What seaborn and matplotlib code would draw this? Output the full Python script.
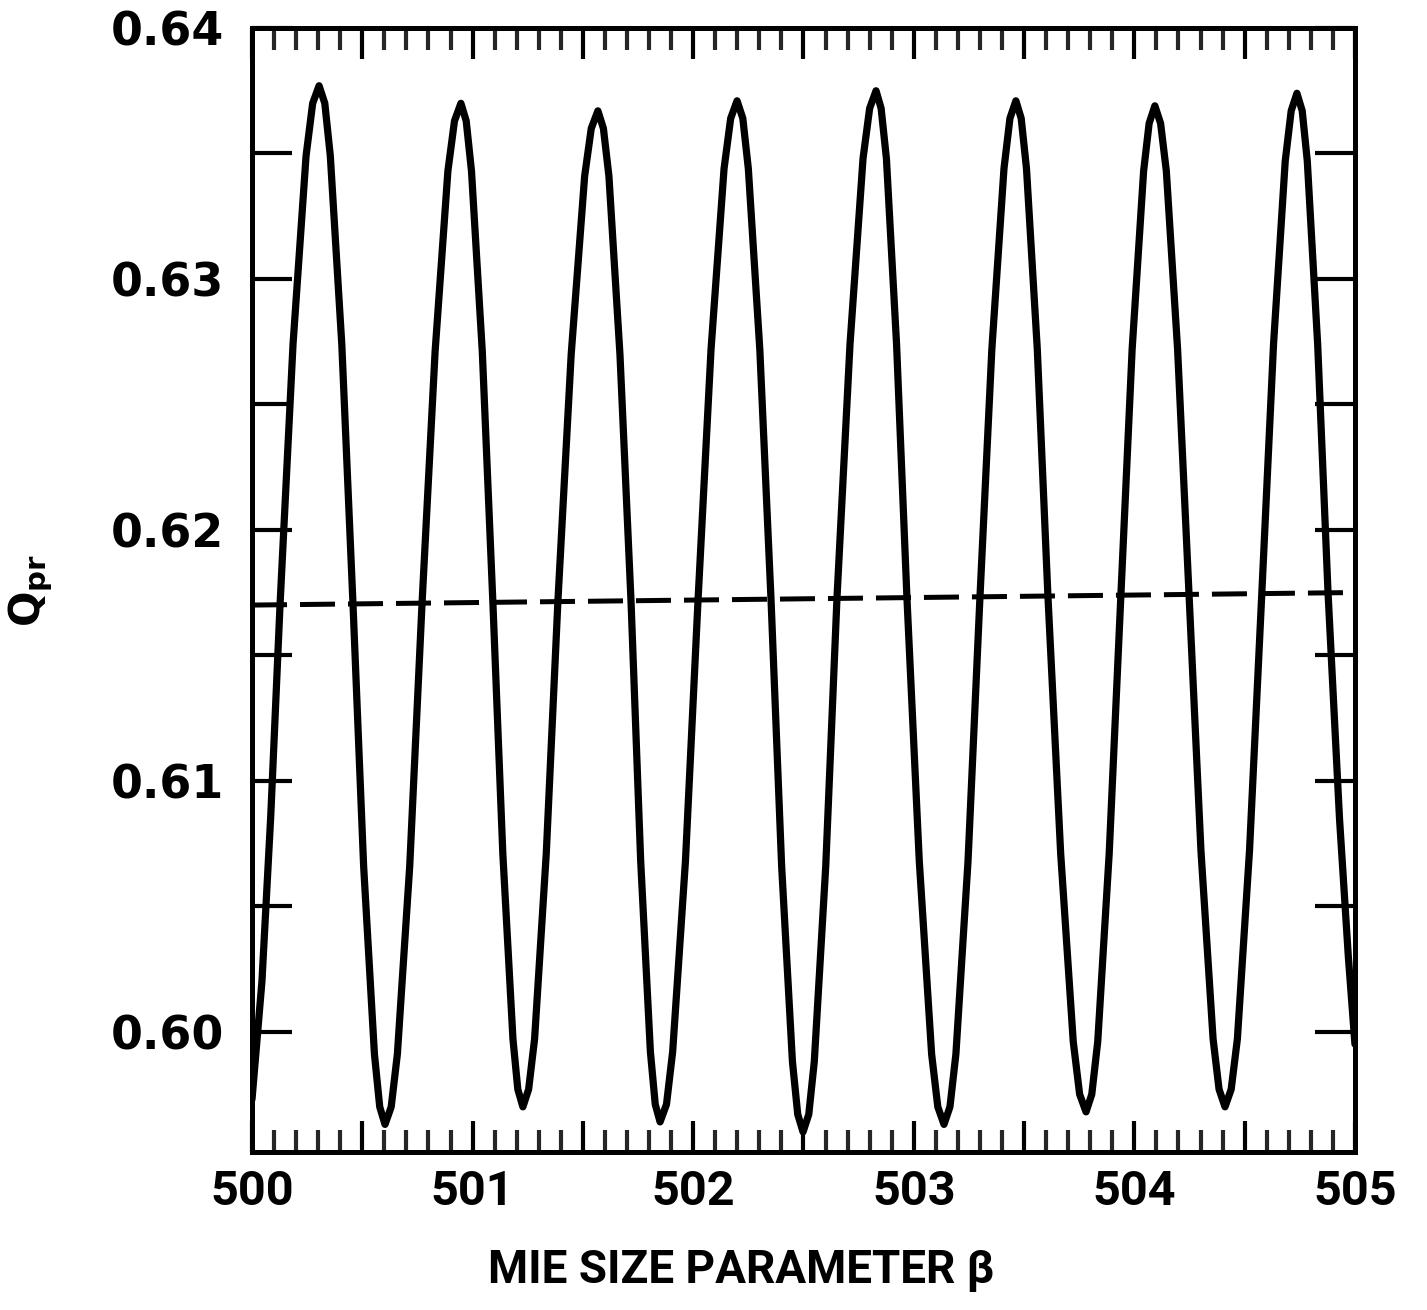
import numpy as np
import pandas as pd
import matplotlib
matplotlib.use("Agg")
import matplotlib.pyplot as plt
import seaborn as sns
from matplotlib.ticker import MultipleLocator

# Mie size parameter (beta)
beta = [500.000, 500.045, 500.085, 500.127, 500.186, 500.245, 500.275, 500.304, 500.330, 500.355, 500.407, 500.458,
        500.506, 500.555, 500.579, 500.603, 500.631, 500.659, 500.715, 500.771, 500.830, 500.888, 500.918, 500.947, 500.971, 500.995,
        501.044, 501.092, 501.137, 501.183, 501.205, 501.228, 501.254, 501.281, 501.334, 501.387, 501.447, 501.508, 501.538,
        501.568, 501.593, 501.618, 501.668, 501.718, 501.762, 501.806, 501.828, 501.850, 501.879, 501.907, 501.965, 502.022,
        502.081, 502.140, 502.170, 502.199, 502.225, 502.250, 502.302, 502.353, 502.401, 502.450, 502.474, 502.498, 502.524, 502.549,
        502.601, 502.652, 502.711, 502.770, 502.800, 502.829, 502.852, 502.876, 502.922, 502.969, 503.025, 503.081, 503.109,
        503.137, 503.164, 503.191, 503.246, 503.300, 503.354, 503.409, 503.436, 503.463, 503.487, 503.511, 503.560, 503.608,
        503.666, 503.723, 503.752, 503.781, 503.807, 503.834, 503.886, 503.939, 503.990, 504.042, 504.067, 504.093, 504.119, 504.145,
        504.196, 504.248, 504.302, 504.357, 504.384, 504.411, 504.439, 504.467, 504.522, 504.578, 504.631, 504.684, 504.711,
        504.737, 504.761, 504.784, 504.831, 504.878, 504.930, 504.970, 505.000]

# Q_pr
q_pr = [0.5973, 0.6020, 0.6086, 0.6170, 0.6274, 0.6349, 0.6370, 0.6377, 0.6370, 0.6349, 0.6274, 0.6170,
        0.6066, 0.5991, 0.5970, 0.5963, 0.5970, 0.5991, 0.6066, 0.6171, 0.6271, 0.6343, 0.6363, 0.6370, 0.6363, 0.6343,
        0.6271, 0.6171, 0.6071, 0.5997, 0.5977, 0.5970, 0.5977, 0.5997, 0.6071, 0.6172, 0.6270, 0.6341, 0.6360,
        0.6367, 0.6360, 0.6341, 0.6270, 0.6172, 0.6068, 0.5992, 0.5971, 0.5964, 0.5971, 0.5992, 0.6068, 0.6172,
        0.6272, 0.6344, 0.6364, 0.6371, 0.6364, 0.6344, 0.6272, 0.6172, 0.6066, 0.5988, 0.5967, 0.5960, 0.5967, 0.5988,
        0.6066, 0.6173, 0.6274, 0.6348, 0.6368, 0.6375, 0.6368, 0.6348, 0.6274, 0.6173, 0.6068, 0.5991, 0.5970,
        0.5963, 0.5970, 0.5991, 0.6068, 0.6173, 0.6272, 0.6344, 0.6364, 0.6371, 0.6364, 0.6344, 0.6272, 0.6174,
        0.6071, 0.5996, 0.5975, 0.5968, 0.5975, 0.5996, 0.6071, 0.6174, 0.6272, 0.6343, 0.6362, 0.6369, 0.6362, 0.6343,
        0.6272, 0.6174, 0.6072, 0.5997, 0.5977, 0.5970, 0.5977, 0.5997, 0.6072, 0.6175, 0.6274, 0.6347, 0.6367,
        0.6374, 0.6367, 0.6347, 0.6274, 0.6175, 0.6085, 0.6030, 0.5995]

# dashed mean line
mean_beta = [500.0, 505.0]
mean_q = [0.6170, 0.6175]

x_ticks = [500, 500.5, 501, 501.5, 502, 502.5, 503, 503.5, 504, 504.5, 505]
x_labels = ["500", "", "501", "", "502", "", "503", "", "504", "", "505"]
y_ticks = [0.60, 0.61, 0.62, 0.63, 0.64]
y_labels = ["0.60", "0.61", "0.62", "0.63", "0.64"]

sns.set_theme(style="ticks")
plt.rcParams['font.family'] = ['DejaVu Sans']
xfont = ['Roboto', 'DejaVu Sans']

fig = plt.figure(figsize=(14.27, 13.10), dpi=100)
ax = fig.add_axes([0.1766, 0.1206, 0.7729, 0.858])

df = pd.DataFrame({"beta": beta, "q": q_pr})
sns.lineplot(data=df, x="beta", y="q", ax=ax, color="black", lw=5.2,
             estimator=None, sort=False, solid_joinstyle="round", solid_capstyle="round")
sns.lineplot(x=mean_beta, y=mean_q, ax=ax, color="black", lw=3.6,
             linestyle=(0, (7, 2.6)), estimator=None)

ax.set_xlim(500, 505)
ax.set_ylim(0.5952, 0.64)

for s in ax.spines.values():
    s.set_linewidth(3.6)
    s.set_color("black")
    s.set_visible(True)

ax.set_xticks(x_ticks)
ax.set_xticklabels(x_labels)
ax.xaxis.set_minor_locator(MultipleLocator(0.1))
ax.set_yticks(y_ticks)
ax.set_yticklabels(y_labels)
ax.yaxis.set_minor_locator(MultipleLocator(0.005))

ax.tick_params(axis="x", which="major", direction="in", length=22, width=3,
               top=True, bottom=True, pad=12, labelsize=35, colors="black")
ax.tick_params(axis="x", which="minor", direction="in", length=16, width=3,
               top=True, bottom=True)
ax.tick_params(axis="y", which="both", direction="in", length=29, width=3,
               left=True, right=True, pad=20, labelsize=33, colors="black")

for lab in ax.get_xticklabels():
    lab.set_family(xfont)
    lab.set_fontweight("bold")
for lab in ax.get_yticklabels():
    lab.set_fontweight("bold")

ax.set_xlabel("MIE SIZE PARAMETER β", fontsize=33, fontweight="bold",
              family=xfont, color="black")
ax.xaxis.set_label_coords(0.443, -0.085)
ax.set_ylabel(r"Q$_{\mathbf{pr}}$", fontsize=30, fontweight="bold", color="black",
              labelpad=40)

fig.savefig("out.png", dpi=100, facecolor="white")
